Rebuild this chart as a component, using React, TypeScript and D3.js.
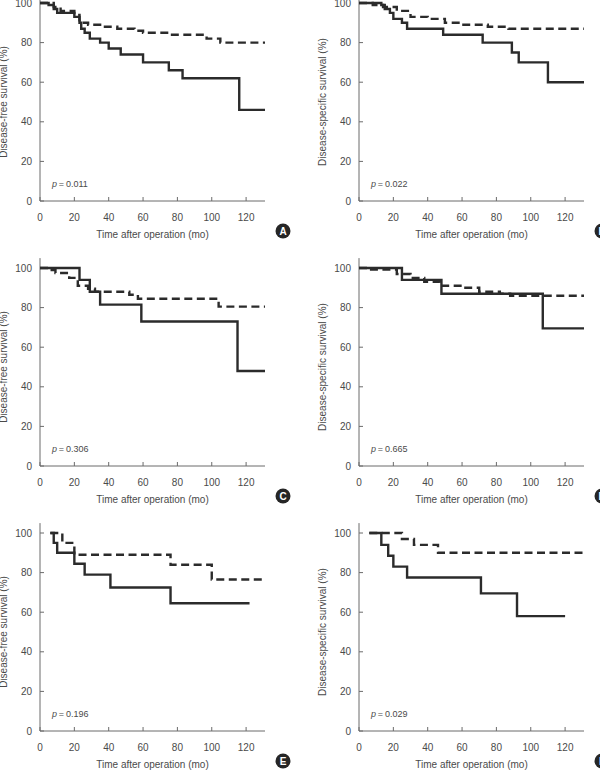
import React from 'react';
import * as d3 from 'd3';

type Pt = [number, number];

// Kaplan-Meier steps: [month, survival %]
const solidA: Pt[] = [[0, 100], [5, 99], [8, 97], [10, 95], [20, 93], [23, 90], [24, 87], [26, 85], [29, 82], [35, 80], [40, 77], [47, 74], [60, 70], [75, 66], [83, 62], [116, 46]];
const dashedA: Pt[] = [[0, 100], [8, 98], [12, 96], [20, 94], [23, 90], [28, 89], [35, 88], [45, 87], [55, 86], [60, 85], [75, 84], [97, 82], [105, 80]];
const solidB: Pt[] = [[0, 100], [13, 99], [15, 97], [18, 95], [20, 92], [25, 90], [28, 87], [49, 84], [72, 80], [89, 75], [93, 70], [110, 60]];
const dashedB: Pt[] = [[0, 100], [8, 99], [14, 98], [22, 96], [30, 93], [40, 92], [50, 90], [60, 89], [75, 88], [87, 87]];
const solidC: Pt[] = [[0, 100], [23, 94], [29, 88], [35, 81.5], [59, 73], [115, 48]];
const dashedC: Pt[] = [[0, 100], [5, 99], [9, 97.5], [17, 95], [22, 91], [28, 89.5], [32, 88], [52, 86.5], [57, 84.5], [104, 80.5]];
const solidD: Pt[] = [[0, 100], [25, 94], [48, 87], [107, 69.5]];
const dashedD: Pt[] = [[0, 100], [5, 99.2], [22, 97], [30, 95], [38, 93], [47, 91], [60, 90], [70, 88], [82, 87], [88, 86]];
const solidE: Pt[] = [[6, 100], [8, 95], [10, 90], [20, 84.5], [26, 79], [41, 72.5], [76, 64.5]];
const dashedE: Pt[] = [[6, 100], [13, 95], [20, 89], [76, 84], [100, 76.5]];
const solidF: Pt[] = [[6, 100], [13, 94], [17, 88.5], [20, 83], [28, 77.5], [71, 69.5], [92, 58]];
const dashedF: Pt[] = [[6, 100], [25, 97], [32, 94], [46, 90]];

const endTimes = { A: [131, 131], B: [131, 131], C: [131, 131], D: [131, 131], E: [122, 130], F: [120, 131] };
const pValues = ['0.011', '0.022', '0.306', '0.665', '0.196', '0.029'];
const panelLetters = ['A', 'B', 'C', 'D', 'E', 'F'];
const yTitles = ['Disease-free survival (%)', 'Disease-specific survival (%)'];
const xTicks = [0, 20, 40, 60, 80, 100, 120];
const yTicks = [0, 20, 40, 60, 80, 100];

const curves: [Pt[], Pt[]][] = [
  [solidA, dashedA], [solidB, dashedB], [solidC, dashedC],
  [solidD, dashedD], [solidE, dashedE], [solidF, dashedF],
];

const colX = [40, 359];
const rowY = [201, 466, 731];

const x = d3.scaleLinear().domain([0, 131]).range([0, 225]);
const y = d3.scaleLinear().domain([0, 100]).range([0, -198]);

const stepLine = d3.line<Pt>()
  .x(d => x(d[0]))
  .y(d => y(d[1]))
  .curve(d3.curveStepAfter);

const withEnd = (pts: Pt[], end: number): Pt[] => [...pts, [end, pts[pts.length - 1][1]]];

const axisColor = '#6b6b6b';
const textColor = '#4a4a4a';
const lineColor = '#2b2b2b';
const font = '"Liberation Sans", Arial, sans-serif';

const Panel: React.FC<{ i: number }> = ({ i }) => {
  const col = i % 2;
  const row = Math.floor(i / 2);
  const letter = panelLetters[i];
  const ends = endTimes[letter as keyof typeof endTimes];
  const [solid, dashed] = curves[i];

  return (
    <g transform={`translate(${colX[col]},${rowY[row]})`} fontFamily={font}>
      {/* axes */}
      <line x1={0} x2={x(131)} y1={0} y2={0} stroke={axisColor} strokeWidth={1} />
      <line x1={0} x2={0} y1={0} y2={y(105)} stroke={axisColor} strokeWidth={1} />
      {xTicks.map(t => (
        <g key={t} transform={`translate(${x(t)},0)`}>
          <line y1={0} y2={-4} stroke={axisColor} />
          <text y={19.5} textAnchor="middle" fontSize={10} fill={textColor}>{t}</text>
        </g>
      ))}
      {yTicks.map(t => (
        <g key={t} transform={`translate(0,${y(t)})`}>
          <line x1={0} x2={4} stroke={axisColor} />
          <text x={-8} dy="0.35em" textAnchor="end" fontSize={10} fill={textColor}>{t}</text>
        </g>
      ))}
      <text x={112.5} y={36.5} textAnchor="middle" fontSize={10} fill={textColor}>Time after operation (mo)</text>
      <text transform={`translate(-37,${y(50)}) rotate(-90)`} textAnchor="middle" dy="0.35em" fontSize={10} fill={textColor}>
        {yTitles[col]}
      </text>
      <text x={12} y={-14} fontSize={9} fill={textColor}>
        <tspan fontStyle="italic">p</tspan>{'\u2009=\u2009' + pValues[i]}
      </text>

      {/* curves */}
      <path d={stepLine(withEnd(dashed, ends[1])) || ''} fill="none" stroke={lineColor} strokeWidth={2.4} strokeDasharray="8,4.5" />
      <path d={stepLine(withEnd(solid, ends[0])) || ''} fill="none" stroke={lineColor} strokeWidth={2.4} />

      {/* panel badge */}
      <g transform="translate(243,30)">
        <circle r={7.5} fill="#262626" />
        <text textAnchor="middle" dy="0.36em" fontSize={10} fontWeight="bold" fill="#fff">{letter}</text>
      </g>
    </g>
  );
};

export default function App() {
  return (
    <svg width={600} height={770} style={{ position: 'absolute', left: 0, top: 0, background: '#fff' }}>
      <rect width={600} height={770} fill="#fff" />
      {panelLetters.map((_, i) => <Panel key={i} i={i} />)}
    </svg>
  );
}
